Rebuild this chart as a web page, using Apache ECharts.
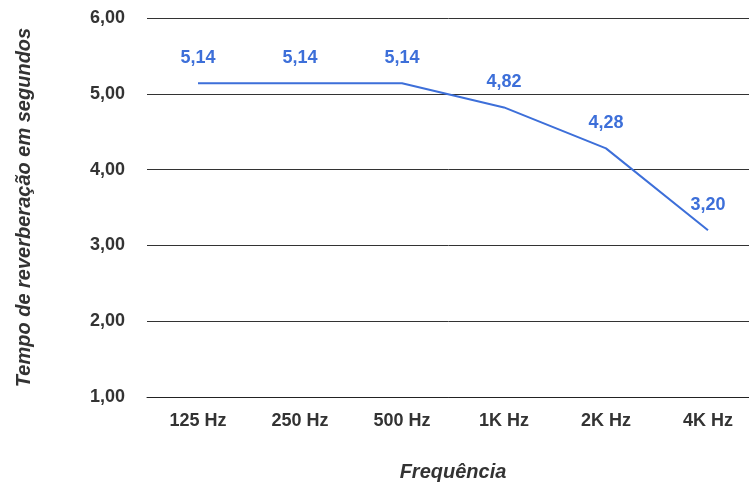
<!DOCTYPE html>
<html><head><meta charset="utf-8">
<script src="https://cdn.jsdelivr.net/npm/echarts@6/dist/echarts.min.js"></script>
<style>html,body{margin:0;padding:0;background:#fff}#c{width:749px;height:486px}</style>
</head><body><div id="c"></div>
<script>
const categories = ['125 Hz','250 Hz','500 Hz','1K Hz','2K Hz','4K Hz'];
const values = [5.14, 5.14, 5.14, 4.82, 4.28, 3.20];
const yTitle = 'Tempo de reverberação em segundos';
const xTitle = 'Frequência';
const fmt = v => v.toFixed(2).replace('.', ',');
const FONT = "'Liberation Sans', Arial, sans-serif";

const chart = echarts.init(document.getElementById('c'));
chart.setOption({
  animation: false,
  textStyle: {fontFamily: FONT},
  grid: {left: 147, width: 612, top: 18, bottom: 89, outerBoundsMode: 'none', containLabel: false},
  xAxis: {
    type: 'category', data: categories, boundaryGap: true,
    axisLine: {show: true, lineStyle: {color: '#222', width: 1}},
    axisTick: {show: false},
    axisLabel: {color: '#333', fontWeight: 'bold', fontSize: 18, margin: 15, fontFamily: FONT},
    name: xTitle, nameLocation: 'middle', nameGap: 65,
    nameTextStyle: {color: '#333', fontWeight: 'bold', fontStyle: 'italic', fontSize: 20, fontFamily: FONT}
  },
  yAxis: {
    type: 'value', min: 1, max: 6, interval: 1,
    axisLine: {show: false}, axisTick: {show: false},
    splitLine: {lineStyle: {color: '#333', width: 1}},
    axisLabel: {color: '#333', fontWeight: 'bold', fontSize: 18, margin: 22, formatter: fmt, fontFamily: FONT},
    name: yTitle, nameLocation: 'middle', nameGap: 113,
    nameTextStyle: {color: '#333', fontWeight: 'bold', fontStyle: 'italic', fontSize: 20, fontFamily: FONT}
  },
  series: [{
    type: 'line', data: values, showSymbol: true, symbol: 'circle', symbolSize: 1,
    itemStyle: {color: 'rgba(0,0,0,0)'},
    lineStyle: {color: '#3d6fd9', width: 2},
    label: {show: true, position: 'top', distance: 16, color: '#3d6fd9', fontWeight: 'bold', fontSize: 18,
      fontFamily: FONT, formatter: p => fmt(p.value)}
  }]
});
</script></body></html>
